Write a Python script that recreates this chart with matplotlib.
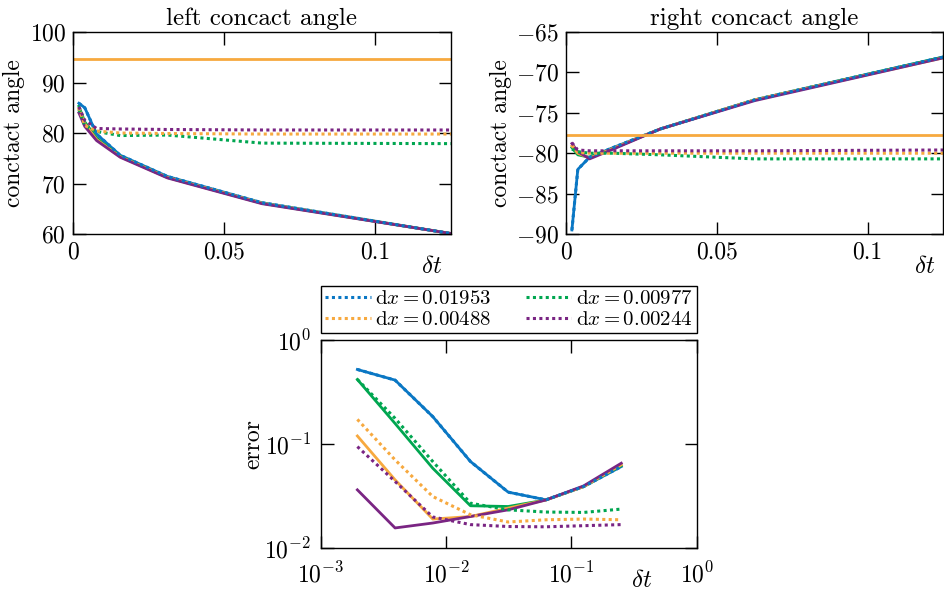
import numpy as np
import matplotlib
matplotlib.use("Agg")
import matplotlib.pyplot as plt
from matplotlib import ticker

plt.rcParams['font.family'] = 'serif'
plt.rcParams['font.serif'] = ['cmr10']
plt.rcParams['mathtext.fontset'] = 'cm'
plt.rcParams['axes.formatter.use_mathtext'] = True
plt.rcParams['font.size'] = 17

# time steps
dt_top = [0.001953125, 0.00390625, 0.0078125, 0.015625, 0.03125, 0.0625, 0.125]
dt_err = [0.001953125, 0.00390625, 0.0078125, 0.015625, 0.03125, 0.0625, 0.125, 0.25]

labels = ['0.01953', '0.00977', '0.00488', '0.00244']
colors = ['#0a77c4', '#00a650', '#f7a93f', '#7a2583']

# left contact angle: solid / dotted for each dx
left_solid = [
    [85.9, 85.0, 79.8, 75.6, 71.4, 66.2, 60.1],
    [85.3, 82.2, 79.0, 75.4, 71.2, 66.1, 60.1],
    [84.8, 81.8, 78.7, 75.3, 71.2, 66.1, 60.1],
    [84.0, 81.3, 78.5, 75.2, 71.1, 66.0, 60.1],
]
left_dotted = [
    [85.9, 85.0, 79.8, 75.6, 71.4, 66.2, 60.1],
    [84.7, 81.5, 80.3, 79.5, 79.6, 78.0, 77.9],
    [85.0, 81.5, 80.4, 80.0, 79.9, 79.8, 79.8],
    [85.2, 82.5, 80.9, 80.8, 80.7, 80.6, 80.6],
]
left_ref = 94.7

# right contact angle
right_solid = [
    [-89.5, -82.0, -80.5, -79.3, -77.0, -73.4, -68.1],
    [-79.3, -80.2, -80.5, -79.4, -77.0, -73.4, -68.1],
    [-79.1, -80.0, -80.6, -79.4, -77.0, -73.4, -68.2],
    [-78.8, -79.8, -80.7, -79.5, -77.0, -73.5, -68.2],
]
right_dotted = [
    [-89.5, -82.0, -80.5, -79.3, -77.0, -73.4, -68.1],
    [-79.5, -79.8, -80.0, -80.0, -80.2, -80.7, -80.7],
    [-79.0, -79.9, -80.0, -80.0, -80.0, -80.0, -80.0],
    [-78.7, -79.6, -79.7, -79.7, -79.7, -79.7, -79.6],
]
right_ref = -77.7

# error
err_solid = [
    [0.523, 0.413, 0.184, 0.068, 0.0345, 0.0291, 0.039, 0.0608],
    [0.419, 0.158, 0.0586, 0.0255, 0.0251, 0.029, 0.039, 0.062],
    [0.1198, 0.0453, 0.019, 0.0201, 0.0242, 0.029, 0.039, 0.0632],
    [0.0363, 0.0156, 0.0174, 0.0201, 0.0233, 0.029, 0.0396, 0.0655],
]
err_dotted = [
    [0.523, 0.413, 0.184, 0.068, 0.0345, 0.0291, 0.039, 0.0608],
    [0.42, 0.177, 0.068, 0.027, 0.0233, 0.0222, 0.022, 0.0237],
    [0.173, 0.0705, 0.0313, 0.0209, 0.0178, 0.0187, 0.019, 0.0187],
    [0.0946, 0.0437, 0.0199, 0.0168, 0.0161, 0.016, 0.0164, 0.0168],
]

lw_s = 2.0
lw_d = 2.2
dot = (0, (1, 1.1))

fig = plt.figure(figsize=(9.44, 5.92), dpi=100)
ax1 = fig.add_axes([0.0773, 0.6047, 0.4004, 0.3412])
ax2 = fig.add_axes([0.5996, 0.6047, 0.3994, 0.3412])
ax3 = fig.add_axes([0.340, 0.0743, 0.398, 0.351])


def style(ax):
    ax.tick_params(direction='in', top=True, right=True, length=9, width=1, pad=5,
                   labelsize=17)
    for s in ax.spines.values():
        s.set_linewidth(1.0)


for ax, sol, dotd, ref in [(ax1, left_solid, left_dotted, left_ref),
                           (ax2, right_solid, right_dotted, right_ref)]:
    for i in range(4):
        ax.plot(dt_top, sol[i], color=colors[i], lw=lw_s)
    for i in range(4):
        ax.plot(dt_top, dotd[i], color=colors[i], lw=lw_d, ls=dot)
    ax.axhline(ref, color=colors[2], lw=lw_s)
    ax.set_xlim(0, 0.125)
    ax.set_xticks([0, 0.05, 0.1])
    ax.xaxis.set_major_formatter(ticker.FuncFormatter(lambda v, p: '%g' % v))
    ax.set_ylabel('conctact angle', labelpad=3, fontsize=17)
    ax.set_xlabel(r'$\delta t$', fontsize=18)
    ax.xaxis.set_label_coords(0.95, -0.11)
    style(ax)

ax1.set_ylim(60, 100)
ax1.set_yticks([60, 70, 80, 90, 100])
ax1.set_title('left concact angle', fontsize=18, pad=5)
ax2.set_ylim(-90, -65)
ax2.set_yticks([-90, -85, -80, -75, -70, -65])
ax2.set_title('right concact angle', fontsize=18, pad=5)

handles = []
for i in range(4):
    ax3.loglog(dt_err, err_solid[i], color=colors[i], lw=lw_s)
for i in range(4):
    h, = ax3.loglog(dt_err, err_dotted[i], color=colors[i], lw=lw_d, ls=dot,
                    label=r'$\mathrm{d}x = %s$' % labels[i])
    handles.append(h)
ax3.set_xlim(1e-3, 1)
ax3.set_ylim(1e-2, 1)
ax3.set_xticks([1e-3, 1e-2, 1e-1, 1])
ax3.set_yticks([1e-2, 1e-1, 1])
ax3.minorticks_off()
ax3.set_ylabel('error', labelpad=0, fontsize=17)
ax3.set_xlabel(r'$\delta t$', fontsize=18)
ax3.xaxis.set_label_coords(0.853, -0.105)
style(ax3)
ax3.tick_params(axis='x', pad=10)
ax3.tick_params(axis='y', pad=7)

# legend filled row by row: blue, green / orange, purple
order = [0, 2, 1, 3]
leg = ax3.legend([handles[k] for k in order],
                 [handles[k].get_label() for k in order],
                 ncol=2, loc='lower left', bbox_to_anchor=(0, 1.034, 1, 0.21),
                 mode='expand', borderaxespad=0, fancybox=False, framealpha=1,
                 edgecolor='black', handlelength=2.2, handletextpad=0.2,
                 columnspacing=0.8, labelspacing=0.1, borderpad=0.2, fontsize=15)
leg.get_frame().set_linewidth(1.0)

fig.savefig('out.png', dpi=100)
